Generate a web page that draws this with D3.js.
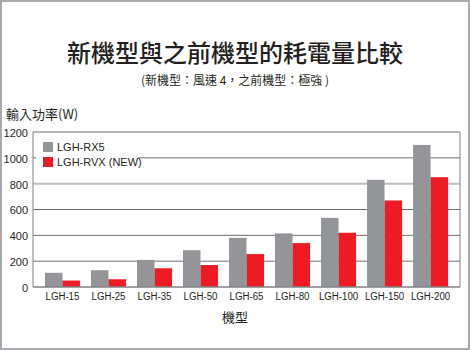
<!DOCTYPE html>
<html><head><meta charset="utf-8">
<script src="https://cdn.jsdelivr.net/npm/d3@7/dist/d3.min.js"></script>
<style>
html,body{margin:0;padding:0;background:#fff;}
svg{display:block;}
text{font-family:"Liberation Sans","Noto Sans CJK TC",Arial,sans-serif;fill:#231f20;}
.cjk{font-family:"Noto Sans CJK TC","Liberation Sans",sans-serif;}
</style></head><body>
<svg id="c" width="470" height="350"></svg>
<script>
const categories = ["LGH-15","LGH-25","LGH-35","LGH-50","LGH-65","LGH-80","LGH-100","LGH-150","LGH-200"];
const seriesNames = ["LGH-RX5","LGH-RVX (NEW)"];
const rx5 = [110,130,210,285,380,415,535,830,1100];
const rvx = [50,60,145,170,255,340,420,670,850];
const yTicks = [0,200,400,600,800,1000,1200];
const colors = ["#939598","#ed1c24"];

const svg = d3.select("#c");
svg.append("rect").attr("x",1).attr("y",1).attr("width",468).attr("height",348)
  .attr("fill","#fff").attr("stroke","#a7a9ac").attr("stroke-width",2);

const L=33,R=460,T=132,B=287;
const x = d3.scaleBand().domain(categories).range([L,R]).paddingInner(0.24).paddingOuter(0.26);
const xs = d3.scaleBand().domain([0,1]).range([0,x.bandwidth()]);
const y = d3.scaleLinear().domain([0,1200]).range([B,T]);

// gridlines
svg.append("g").selectAll("line").data(yTicks.filter(d=>d>0)).join("line")
  .attr("x1",L).attr("x2",R).attr("y1",d=>y(d)).attr("y2",d=>y(d))
  .attr("stroke",d=>d===800?"#bcbec0":"#6d6e71").attr("stroke-width",d=>d===800?2:1);

// bars
const data = categories.map((c,i)=>({c,v:[rx5[i],rvx[i]]}));
const g = svg.append("g").selectAll("g").data(data).join("g")
  .attr("transform",d=>`translate(${x(d.c)},0)`);
g.selectAll("rect").data(d=>d.v.map((v,k)=>({v,k}))).join("rect")
  .attr("x",d=>xs(d.k)).attr("width",xs.bandwidth())
  .attr("y",d=>y(d.v)).attr("height",d=>B-y(d.v)).attr("fill",d=>colors[d.k]);

// frame
svg.append("line").attr("x1",L).attr("x2",L).attr("y1",T).attr("y2",B).attr("stroke","#808285");
svg.append("line").attr("x1",R).attr("x2",R).attr("y1",T).attr("y2",B).attr("stroke","#808285");
svg.append("line").attr("x1",L).attr("x2",R).attr("y1",B).attr("y2",B).attr("stroke","#808285").attr("stroke-width",1.5);

// y axis labels
const ya = svg.append("g").attr("transform",`translate(${L},0)`)
  .call(d3.axisLeft(y).tickValues(yTicks).tickSize(0).tickPadding(5).tickFormat(d3.format("d")));
ya.select(".domain").remove();
ya.selectAll("text").attr("font-size",11).attr("font-family","Liberation Sans, sans-serif").attr("fill","#231f20")
  .attr("dy","0.4em");

// x axis labels
const xa = svg.append("g").attr("transform",`translate(0,${B})`)
  .call(d3.axisBottom(x).tickSize(0).tickPadding(5));
xa.select(".domain").remove();
xa.selectAll(".tick text").attr("font-size",11).attr("font-family","Liberation Sans, sans-serif").attr("fill","#231f20")
  .attr("transform","scale(0.88,1)");

// legend
svg.append("rect").attr("x",36).attr("y",136).attr("width",102).attr("height",33).attr("fill","#fff");
seriesNames.forEach((n,k)=>{
  const yy = 142 + k*15;
  svg.append("rect").attr("x",43).attr("y",yy).attr("width",10).attr("height",10).attr("fill",colors[k]);
  svg.append("text").attr("x",57).attr("y",yy+9).attr("font-size",11).text(n);
});

// titles
svg.append("text").attr("class","cjk").attr("x",235).attr("y",62).attr("text-anchor","middle")
  .attr("font-size",24).attr("font-weight",500).text("新機型與之前機型的耗電量比較");
svg.append("text").attr("class","cjk").attr("x",235).attr("y",85).attr("text-anchor","middle")
  .attr("font-size",12).text("(新機型：風速 4，之前機型：極強 )");
svg.append("text").attr("class","cjk").attr("x",6).attr("y",119)
  .attr("font-size",13).text("輸入功率(W)");
svg.append("text").attr("class","cjk").attr("x",235).attr("y",322).attr("text-anchor","middle")
  .attr("font-size",13).text("機型");
</script>
</body></html>
